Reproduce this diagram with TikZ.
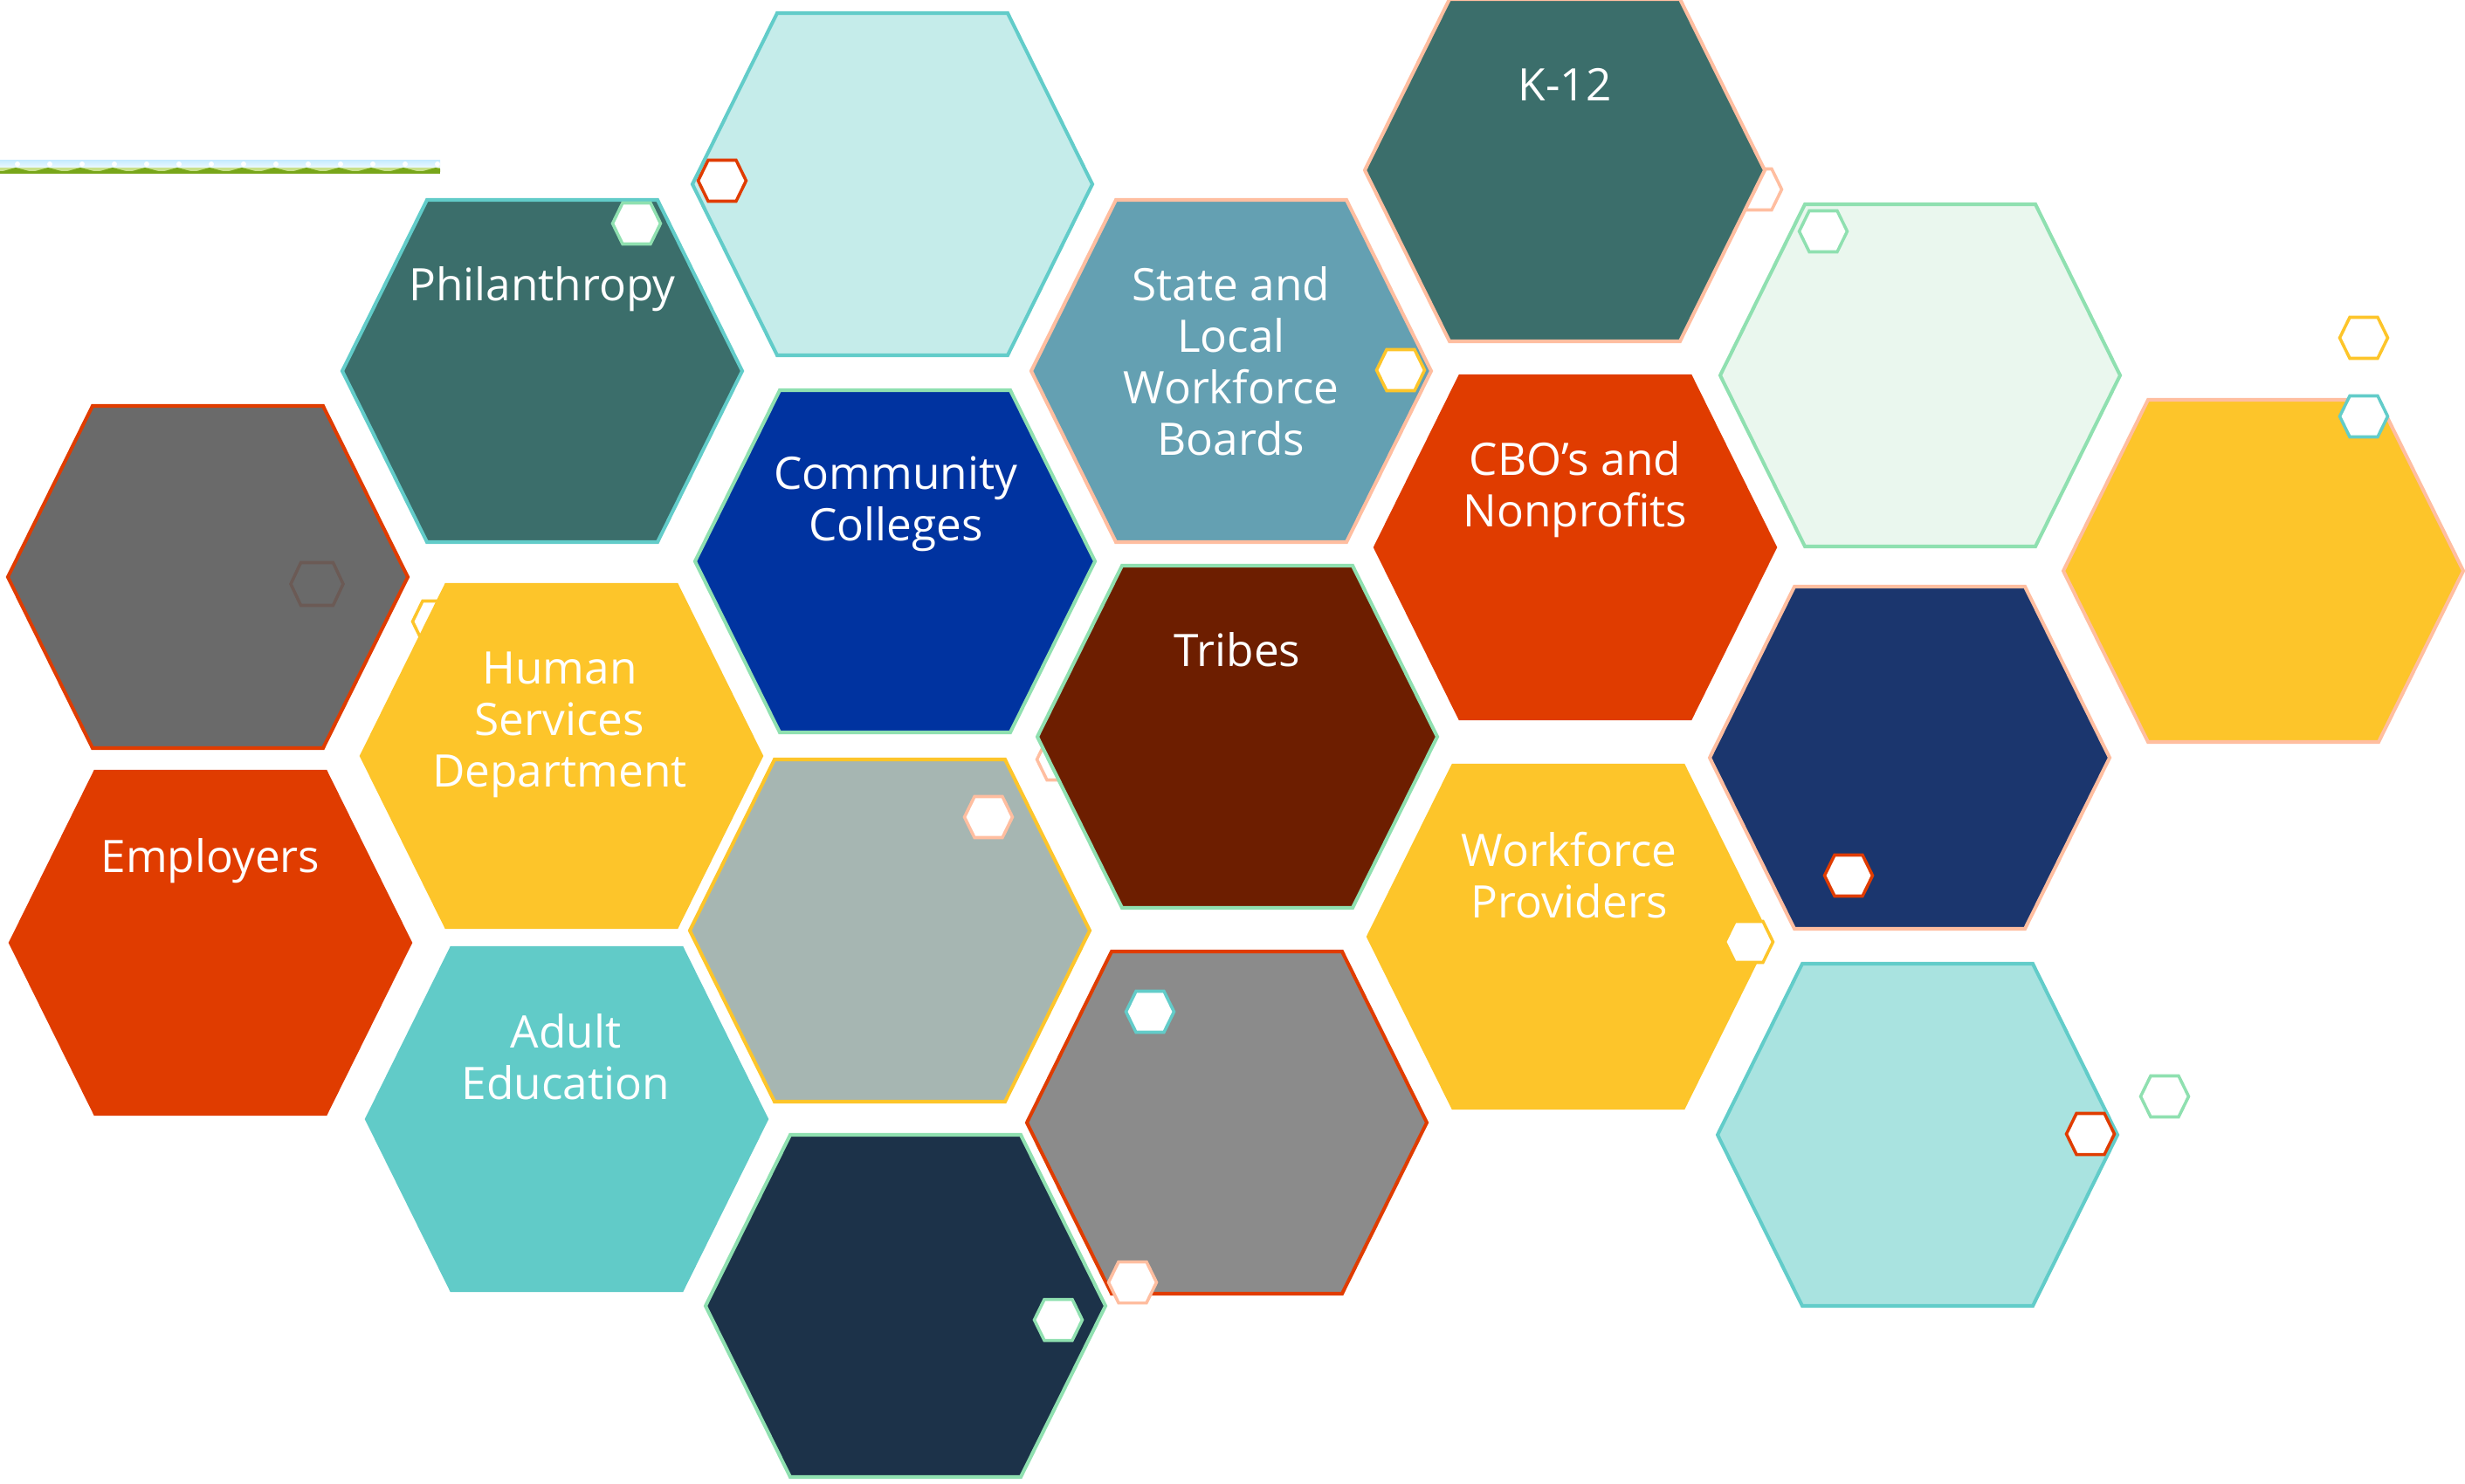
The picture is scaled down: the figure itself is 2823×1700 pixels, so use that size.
\documentclass[tikz,border=0pt]{standalone}
\usepackage{fontspec}
\setmainfont{Open Sans}
\definecolor{tealdark}{HTML}{3B6E6B}
\definecolor{cyanb}{HTML}{62CCC9}
\definecolor{lcyan}{HTML}{C5ECEA}
\definecolor{peach}{HTML}{FFBEA0}
\definecolor{steel}{HTML}{64A0B2}
\definecolor{palegreen}{HTML}{EAF7EE}
\definecolor{greenb}{HTML}{8FE0B0}
\definecolor{grayA}{HTML}{6A6A6A}
\definecolor{redo}{HTML}{E03C00}
\definecolor{royal}{HTML}{0033A0}
\definecolor{yell}{HTML}{FDC52A}
\definecolor{brown}{HTML}{6D1E00}
\definecolor{navy}{HTML}{1B366E}
\definecolor{graygreen}{HTML}{A6B6B2}
\definecolor{aqua}{HTML}{61CBC8}
\definecolor{grayB}{HTML}{8B8B8B}
\definecolor{lteal}{HTML}{A9E3E0}
\definecolor{dnavy}{HTML}{1C3249}
\definecolor{brgray}{HTML}{6B5A55}
\definecolor{skyb}{HTML}{C8ECFF}
\definecolor{grassd}{HTML}{78A61A}
\definecolor{grassl}{HTML}{C8E08A}
% general hexagon: centre, half-width, half top edge, half height, style
\newcommand{\hexg}[6]{\path[#6] (#1,#2) +(#3,0) -- +(#4,#5) -- +(-#4,#5) -- +(-#3,0) -- +(-#4,-#5) -- +(#4,-#5) -- cycle;}
\newcommand{\bighexa}[3]{\hexg{#1}{#2}{229}{132}{196}{bighex,#3}}
\newcommand{\smallhexa}[3]{\hexg{#1}{#2}{27.5}{16}{23.5}{smallhex,#3}}
\tikzset{
 hexlab/.style={text=white, align=center, font=\fontsize{14.6}{16.8}\selectfont, inner sep=0pt},
 bighex/.style={line width=1.15pt, line join=miter},
 smallhex/.style={line width=1pt, line join=miter},
}
\begin{document}
\begin{tikzpicture}[x=0.01cm,y=-0.01cm]
\path[fill=white,use as bounding box] (0,0) rectangle (2823,1700);
% decorative strip
\begin{scope}
\clip (0,180) rectangle (504,200);
\shade[top color=skyb,bottom color=white] (0,184) rectangle (504,196);
\fill[grassl] (0,192) rectangle (504,197);
\foreach \i in {0,...,13}{\fill[grassd] (\i*37,197) -- (\i*37+18,192) -- (\i*37+37,197) -- cycle;}
\fill[grassd] (0,196) rectangle (504,199);
\foreach \i in {0,...,13}{\fill[white] (\i*37+20,188) circle (3);}
\end{scope}
% partially hidden small hexes
\smallhexa{2013}{217}{draw=peach,fill=white}
\smallhexa{500}{712}{draw=yell,fill=white}
\smallhexa{1215}{870}{draw=peach,fill=white}
% big hexes
\bighexa{1022}{211}{fill=lcyan,draw=cyanb}
\bighexa{1792}{195}{fill=tealdark,draw=peach}
\bighexa{621}{425}{fill=tealdark,draw=cyanb}
\bighexa{1410}{425}{fill=steel,draw=peach}
\bighexa{2199}{430}{fill=palegreen,draw=greenb}
\bighexa{238}{661}{fill=grayA,draw=redo}
\bighexa{1025}{643}{fill=royal,draw=greenb}
\bighexa{1804}{627}{fill=redo,draw=redo}
\bighexa{2592}{654}{fill=yell,draw=peach}
\bighexa{643}{866}{fill=yell,draw=yell}
\bighexa{1417}{844}{fill=brown,draw=greenb}
\bighexa{2187}{868}{fill=navy,draw=peach}
\bighexa{241}{1080}{fill=redo,draw=redo}
\bighexa{1019}{1066}{fill=graygreen,draw=yell}
\bighexa{1796}{1073}{fill=yell,draw=yell}
\bighexa{649}{1282}{fill=aqua,draw=aqua}
\bighexa{1405}{1286}{fill=grayB,draw=redo}
\bighexa{2196}{1300}{fill=lteal,draw=cyanb}
\bighexa{1037}{1496}{fill=dnavy,draw=greenb}
% small hexes
\smallhexa{827}{207}{draw=redo,fill=white}
\smallhexa{729}{256}{draw=greenb,fill=white}
\smallhexa{1604}{424}{draw=yell,fill=white}
\smallhexa{2088}{265}{draw=greenb,fill=white}
\smallhexa{2707}{387}{draw=yell,fill=white}
\smallhexa{2707}{477}{draw=cyanb,fill=white}
\hexg{363}{669}{30}{18.5}{24.5}{smallhex,draw=brgray}
\smallhexa{1132}{936}{draw=peach,fill=white}
\smallhexa{2117}{1003}{draw=redo,fill=white}
\smallhexa{2003}{1079}{draw=yell,fill=white}
\smallhexa{1317}{1159}{draw=cyanb,fill=white}
\smallhexa{2479}{1256}{draw=greenb,fill=white}
\smallhexa{2394}{1299}{draw=redo,fill=white}
\smallhexa{1297}{1469}{draw=peach,fill=white}
\smallhexa{1212}{1512}{draw=greenb,fill=white}
% labels
\node[hexlab] (phil) at (621,331) {Philanthropy};
\node[hexlab] (k12) at (1792,97) {K-12};
\node[hexlab] (state) at (1410,414) {State and\\Local\\Workforce\\Boards};
\node[hexlab] (cc) at (1026,577) {Community\\Colleges};
\node[hexlab] (cbo) at (1804,561) {CBO’s and\\Nonprofits};
\node[hexlab] (hsd) at (641,830) {Human\\Services\\Department};
\node[hexlab] (tribes) at (1417,744) {Tribes};
\node[hexlab] (emp) at (241,986) {Employers};
\node[hexlab] (wfp) at (1797,1003) {Workforce\\Providers};
\node[hexlab] (adult) at (648,1211) {Adult\\Education};
\end{tikzpicture}
\end{document}
